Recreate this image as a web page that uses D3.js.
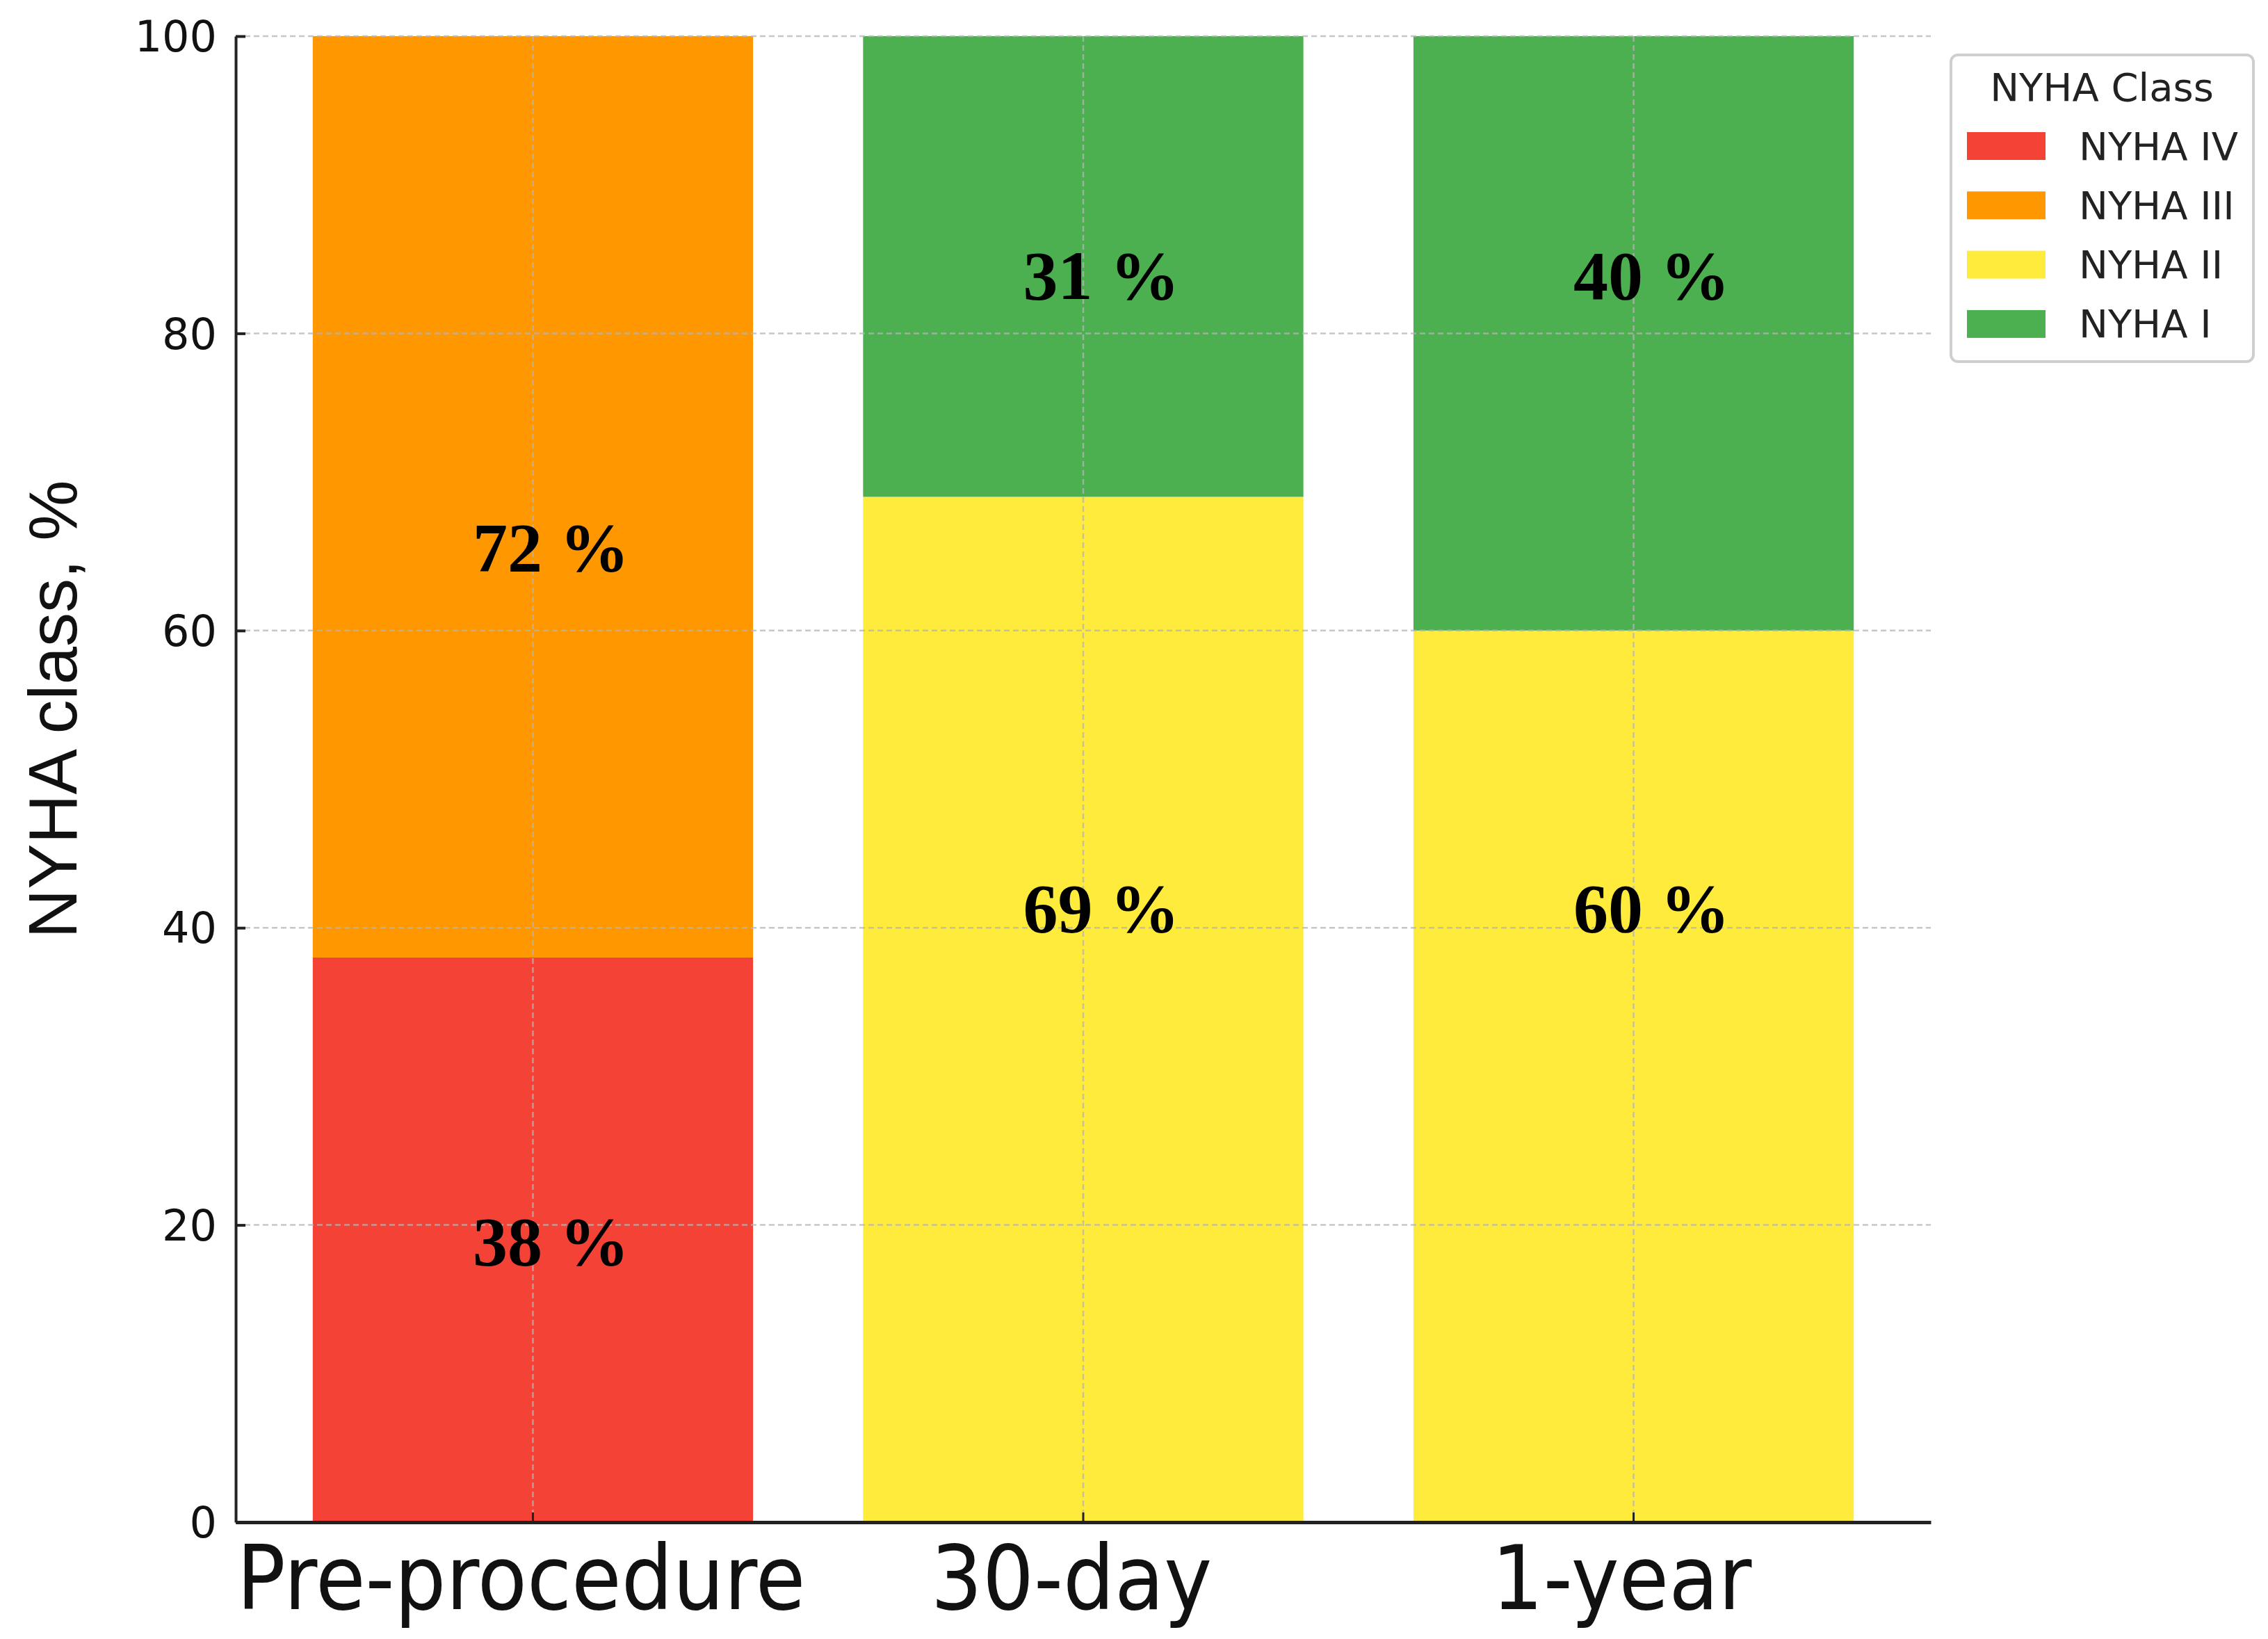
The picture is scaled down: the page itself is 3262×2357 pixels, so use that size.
<!DOCTYPE html>
<html>
<head>
<meta charset="utf-8">
<script src="https://cdn.jsdelivr.net/npm/d3@7"></script>
<style>
  body { margin: 0; background: white; }
</style>
</head>
<body>
<svg id="chart" width="3262" height="2357"></svg>
<script>
// data
const periods = ["Pre-procedure", "30-day", "1-year"];
const classes = ["NYHA IV", "NYHA III", "NYHA II", "NYHA I"];
const nyhaIV = [38, 0, 0];
const nyhaIII = [62, 0, 0];
const nyhaII = [0, 69, 60];
const nyhaI = [0, 31, 40];
// printed labels and where they sit (in % units)
const labelText = [["38 %", "72 %"], ["69 %", "31 %"], ["60 %", "40 %"]];
const labelAt = [[18.9, 65.6], [41.3, 83.9], [41.3, 83.9]];
const yTicks = [0, 20, 40, 60, 80, 100];

const COLORS = ["#f44336", "#ff9800", "#ffeb3b", "#4caf50"];

const svg = d3.select("#chart");

const LEFT = 339, RIGHT = 2777, TOP = 52, BOTTOM = 2189;

const x = d3.scaleBand()
    .domain(periods)
    .range([LEFT, RIGHT])
    .paddingInner(0.2)
    .paddingOuter(0.14);

const y = d3.scaleLinear()
    .domain([0, 100])
    .range([BOTTOM, TOP]);

const color = d3.scaleOrdinal().domain(classes).range(COLORS);

// table for the stack
const table = periods.map(function(p, i) {
    return {
        period: p,
        "NYHA IV": nyhaIV[i],
        "NYHA III": nyhaIII[i],
        "NYHA II": nyhaII[i],
        "NYHA I": nyhaI[i]
    };
});

const series = d3.stack().keys(classes)(table);

svg.append("g")
    .selectAll("g")
    .data(series)
    .enter()
    .append("g")
    .attr("fill", d => color(d.key))
    .selectAll("rect")
    .data(d => d)
    .enter()
    .append("rect")
    .attr("x", d => x(d.data.period))
    .attr("y", d => y(d[1]))
    .attr("width", x.bandwidth())
    .attr("height", d => y(d[0]) - y(d[1]));

// grid on top of bars
const grid = svg.append("g")
    .attr("stroke", "#b4b4b4")
    .attr("stroke-opacity", 0.75)
    .attr("stroke-width", 2.5)
    .attr("stroke-dasharray", "8,5");

grid.selectAll("line.h")
    .data(yTicks)
    .enter()
    .append("line")
    .attr("class", "h")
    .attr("x1", LEFT)
    .attr("x2", RIGHT)
    .attr("y1", d => y(d))
    .attr("y2", d => y(d));

grid.selectAll("line.v")
    .data(periods)
    .enter()
    .append("line")
    .attr("class", "v")
    .attr("x1", d => x(d) + x.bandwidth() / 2)
    .attr("x2", d => x(d) + x.bandwidth() / 2)
    .attr("y1", TOP)
    .attr("y2", BOTTOM);

// value labels
const labels = [];
periods.forEach(function(p, i) {
    labelText[i].forEach(function(t, j) {
        labels.push({period: p, text: t, at: labelAt[i][j]});
    });
});

svg.append("g")
    .selectAll("text")
    .data(labels)
    .enter()
    .append("text")
    .attr("x", d => x(d.period) + x.bandwidth() / 2 + 26)
    .attr("y", d => y(d.at))
    .attr("text-anchor", "middle")
    .attr("dominant-baseline", "central")
    .style("font-family", "'Liberation Serif', 'Times New Roman', serif")
    .style("font-weight", "bold")
    .style("font-size", "100px")
    .style("fill", "black")
    .text(d => d.text);

// axes
const yAxis = svg.append("g")
    .attr("transform", "translate(" + LEFT + ",0)")
    .call(d3.axisLeft(y).tickValues(yTicks).tickSizeInner(-14).tickSizeOuter(0).tickPadding(27));

yAxis.select(".domain").attr("stroke", "#222").attr("stroke-width", 4);
yAxis.selectAll(".tick line").attr("stroke", "#222").attr("stroke-width", 4);
yAxis.selectAll(".tick text")
    .attr("dy", "0.35em")
    .style("font-family", "'DejaVu Sans', sans-serif")
    .style("font-size", "62px")
    .style("fill", "#111");

const xAxis = svg.append("g")
    .attr("transform", "translate(0," + BOTTOM + ")")
    .call(d3.axisBottom(x).tickSizeInner(-14).tickSizeOuter(0).tickPadding(0));

xAxis.select(".domain").attr("stroke", "#222").attr("stroke-width", 5);
xAxis.selectAll(".tick line").attr("stroke", "#222").attr("stroke-width", 3);
// tick labels in the picture are a little condensed and tall
xAxis.selectAll(".tick text")
    .attr("x", 0)
    .attr("y", 0)
    .attr("dy", 0)
    .attr("transform", "translate(-17,125) scale(0.91,1)")
    .style("font-family", "'DejaVu Sans', sans-serif")
    .style("font-size", "128px")
    .style("fill", "#111");

// y title
svg.append("text")
    .attr("transform", "translate(110,1020) rotate(-90)")
    .attr("text-anchor", "middle")
    .style("font-family", "'Liberation Sans', Arial, sans-serif")
    .style("font-size", "98px")
    .style("fill", "#111")
    .text("NYHA class, %");

// legend
const legend = svg.append("g").attr("transform", "translate(2806,79)");

legend.append("rect")
    .attr("width", 435)
    .attr("height", 441)
    .attr("rx", 10)
    .attr("fill", "white")
    .attr("fill-opacity", 0.8)
    .attr("stroke", "#cfcfcf")
    .attr("stroke-width", 4);

legend.append("text")
    .attr("x", 217)
    .attr("y", 66)
    .attr("text-anchor", "middle")
    .style("font-family", "'DejaVu Sans', sans-serif")
    .style("font-size", "56px")
    .style("fill", "#222")
    .text("NYHA Class");

const items = legend.selectAll("g.item")
    .data(classes)
    .enter()
    .append("g")
    .attr("class", "item")
    .attr("transform", (d, i) => "translate(0," + (131 + i * 85.3) + ")");

items.append("rect")
    .attr("x", 23)
    .attr("y", -20)
    .attr("width", 113)
    .attr("height", 40)
    .attr("fill", d => color(d));

items.append("text")
    .attr("x", 184)
    .attr("y", 0)
    .attr("dominant-baseline", "central")
    .style("font-family", "'DejaVu Sans', sans-serif")
    .style("font-size", "56px")
    .style("fill", "#222")
    .text(d => d);
</script>
</body>
</html>
